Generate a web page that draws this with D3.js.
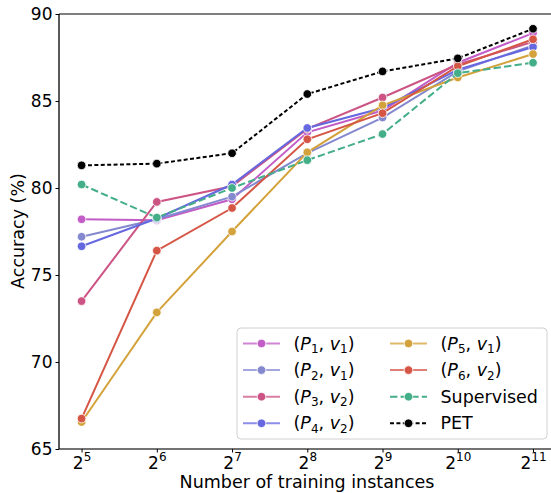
<!DOCTYPE html>
<html><head><meta charset="utf-8">
<script src="https://cdn.jsdelivr.net/npm/d3@7"></script>
<style>body{margin:0;background:#fff;} svg{display:block;font-family:"DejaVu Sans",sans-serif;}</style>
</head><body><svg id="c" width="551" height="493"></svg>
<script>
const exponents = [5, 6, 7, 8, 9, 10, 11];
const yTicks = [65, 70, 75, 80, 85, 90];
const p1 = [78.2, 78.15, 79.35, 83.2, 84.45, 87.2, 88.9];
const p2 = [77.2, 78.2, 79.5, 82.0, 84.05, 86.7, 88.2];
const p3 = [73.5, 79.2, 80.1, 83.4, 85.2, 87.1, 88.4];
const p4 = [76.65, 78.25, 80.2, 83.45, 84.6, 86.8, 88.1];
const p5 = [66.55, 72.85, 77.5, 82.05, 84.75, 86.35, 87.7];
const p6 = [66.75, 76.4, 78.85, 82.8, 84.3, 87.0, 88.55];
const supervised = [80.2, 78.3, 80.0, 81.6, 83.1, 86.6, 87.2];
const pet = [81.3, 81.4, 82.0, 85.4, 86.7, 87.45, 89.15];

const series = [
  {label:["P","1","v","1"], values:p1, color:"#c25cc6", dash:null},
  {label:["P","2","v","1"], values:p2, color:"#8489cf", dash:null},
  {label:["P","3","v","2"], values:p3, color:"#cc5484", dash:null},
  {label:["P","4","v","2"], values:p4, color:"#6668e0", dash:null},
  {label:["P","5","v","1"], values:p5, color:"#d4a23a", dash:null},
  {label:["P","6","v","2"], values:p6, color:"#d65646", dash:null},
  {label:"Supervised", values:supervised, color:"#44ae88", dash:"7.4,3.2"},
  {label:"PET", values:pet, color:"#000000", dash:"4,2.4"}
];

const svg = d3.select("#c");
const L = 59, R = 555.6, T = 14, B = 449;
const x = d3.scaleLinear().domain([4.7, 11.3]).range([L, R]);
const y = d3.scaleLinear().domain([65, 90]).range([B, T]);

const g = svg.append("g");
// lines
const line = d3.line().x((d,i)=>x(exponents[i])).y(d=>y(d));
series.forEach(s=>{
  g.append("path").attr("d", line(s.values)).attr("fill","none")
   .attr("stroke", s.color).attr("stroke-width", 2)
   .attr("stroke-dasharray", s.dash);
  g.selectAll(null).data(s.values).enter().append("circle")
   .attr("cx",(d,i)=>x(exponents[i])).attr("cy",d=>y(d)).attr("r",4.3)
   .attr("fill", s.color).attr("stroke","#fff").attr("stroke-width",0.8);
});

// spines
svg.append("line").attr("x1",L).attr("x2",R).attr("y1",T).attr("y2",T).attr("stroke","#555").attr("stroke-width",1.3);
svg.append("line").attr("x1",L).attr("x2",R).attr("y1",B).attr("y2",B).attr("stroke","#444").attr("stroke-width",1.3);
svg.append("line").attr("x1",L).attr("x2",L).attr("y1",T).attr("y2",B).attr("stroke","#000").attr("stroke-width",1.3);

// y axis
const yAxis = d3.axisLeft(y).tickValues(yTicks).tickSize(3.5).tickPadding(3).tickFormat(d3.format("d"));
const ya = svg.append("g").attr("transform",`translate(${L},0)`).call(yAxis);
ya.select(".domain").remove();
ya.selectAll("text").attr("font-size",17).attr("font-family","DejaVu Sans").attr("fill","#000");
ya.selectAll("line").attr("stroke","#000");

// x axis
const xAxis = d3.axisBottom(x).tickValues(exponents).tickSize(3.5).tickFormat("");
const xa = svg.append("g").attr("transform",`translate(0,${B})`).call(xAxis);
xa.select(".domain").remove();
xa.selectAll("line").attr("stroke","#000");
xa.selectAll(".tick").each(function(d){
  const t = d3.select(this).append("text").attr("y",19.5).attr("fill","#000")
    .attr("font-size",17).attr("text-anchor","middle").attr("font-family","DejaVu Sans");
  t.append("tspan").text("2");
  t.append("tspan").attr("font-size",12).attr("dy",-7.5).text(d);
});

// labels
svg.append("text").attr("x",307).attr("y",488).attr("text-anchor","middle")
  .attr("font-size",17.5).text("Number of training instances");
svg.append("text").attr("transform","translate(24,231) rotate(-90)").attr("text-anchor","middle")
  .attr("font-size",17.5).text("Accuracy (%)");

// legend
const lg = svg.append("g");
lg.append("rect").attr("x",237).attr("y",328).attr("width",310).attr("height",111)
  .attr("rx",4).attr("fill","#fff").attr("fill-opacity",0.85).attr("stroke","#d0d0d0").attr("stroke-width",1);
series.forEach((s,i)=>{
  const col = i < 4 ? 0 : 1;
  const row = i < 4 ? i : i - 4;
  const hx = col === 0 ? 243 : 390;
  const ty = 343.5 + row*26.6;
  lg.append("line").attr("x1",hx).attr("x2",hx+37).attr("y1",ty).attr("y2",ty)
    .attr("stroke",s.color).attr("stroke-width",2).attr("stroke-opacity", s.dash? 1 : 0.75)
    .attr("stroke-dasharray",s.dash);
  lg.append("circle").attr("cx",hx+18.5).attr("cy",ty).attr("r",4.3).attr("fill",s.color)
    .attr("stroke","#fff").attr("stroke-width",0.8);
  const t = lg.append("text").attr("x",hx+50.5).attr("y",ty+6).attr("font-size",17.5).attr("fill","#000");
  if (typeof s.label === "string") { t.text(s.label); }
  else {
    t.append("tspan").text("(");
    t.append("tspan").attr("font-style","italic").text(s.label[0]);
    t.append("tspan").attr("font-size",12).attr("dy",3.5).text(s.label[1]);
    t.append("tspan").attr("dy",-3.5).text(", ");
    t.append("tspan").attr("font-style","italic").text(s.label[2]);
    t.append("tspan").attr("font-size",12).attr("dy",3.5).text(s.label[3]);
    t.append("tspan").attr("dy",-3.5).text(")");
  }
});
</script></body></html>
